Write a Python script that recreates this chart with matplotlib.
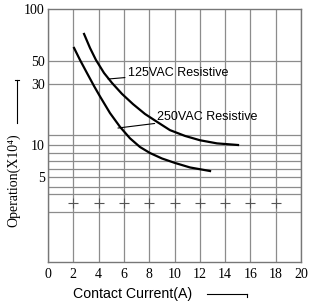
import numpy as np
import matplotlib
matplotlib.use("Agg")
import matplotlib.pyplot as plt
from matplotlib.lines import Line2D

# ---- data ----
x_125 = [2.85, 3.32, 3.79, 4.43, 5.06, 5.85, 6.72, 7.67, 8.62, 9.64, 10.83, 12.02, 13.36, 15.02]
y_125 = [71.7, 59.5, 50.7, 38.3, 30.7, 25.1, 20.9, 17.5, 15.2, 13.1, 11.8, 10.9, 10.3, 10.0]

x_250 = [2.06, 2.53, 3.08, 3.64, 4.11, 4.90, 5.69, 6.48, 7.27, 8.06, 9.01, 10.04, 11.23, 12.81]
y_250 = [59.5, 50.7, 38.3, 28.9, 24.0, 17.8, 13.9, 11.3, 9.46, 8.0, 7.30, 6.74, 6.18, 5.73]

xticks = list(range(0, 21, 2))
yticks = [5, 10, 30, 50, 100]
ytick_labels = ["5", "10", "30", "50", "100"]
hgrid_vals = [50, 30, 12, 10, 8, 7, 6, 5, 4, 3, 1]
cross_val = 2
cross_x = [2, 4, 6, 8, 10, 12, 14, 16, 18]

# ---- non-uniform (datasheet) vertical scale ----
anchor_vals = np.array([0.01, 0.5, 1, 2, 3, 4, 5, 6, 7, 8, 10, 12, 30, 50, 100, 1000])
anchor_pos = np.array([-100, 0, 50, 59, 68, 75, 85, 93, 101, 109, 117, 127, 178, 201, 253, 400], float)
anchor_logs = np.log10(anchor_vals)

def fwd(v):
    v = np.asarray(v, float)
    return np.interp(np.log10(np.clip(v, 1e-2, None)), anchor_logs, anchor_pos)

def inv(p):
    p = np.asarray(p, float)
    return 10 ** np.interp(p, anchor_pos, anchor_logs)

fig = plt.figure(figsize=(3.09, 3.04), dpi=100)
ax = fig.add_axes([48/309, 1-262/304, 253/309, 253/304])
ax.set_yscale('function', functions=(fwd, inv))
ax.set_xlim(0, 20)
ax.set_ylim(0.5, 100)

grid_c = '#8c8c8c'
for v in hgrid_vals:
    ax.axhline(v, color=grid_c, lw=0.9, zorder=1)
ax.set_xticks(xticks)
ax.xaxis.grid(True, color=grid_c, lw=0.9, zorder=1)
ax.plot(cross_x, [cross_val]*len(cross_x), '+', ms=7, mew=0.8, color='#555555', zorder=2)

ax.set_yticks(yticks)
ax.set_yticklabels(ytick_labels)
ax.yaxis.set_minor_locator(matplotlib.ticker.NullLocator())
ax.tick_params(length=0)
ax.tick_params(axis='y', pad=2.5)
ax.tick_params(axis='x', pad=4)
for lab in ax.get_xticklabels() + ax.get_yticklabels():
    lab.set_family(['Liberation Serif', 'DejaVu Serif'])
    lab.set_fontsize(10)
for s in ax.spines.values():
    s.set_color('#777777')
    s.set_linewidth(1.0)

ax.plot(x_125, y_125, color='black', lw=1.6, zorder=3, solid_joinstyle='round')
ax.plot(x_250, y_250, color='black', lw=1.6, zorder=3, solid_joinstyle='round')

ax.annotate('125VAC Resistive', xy=(4.75, 33.5), xytext=(6.3, 38.3),
            ha='left', va='center', fontsize=9, family='Liberation Sans',
            arrowprops=dict(arrowstyle='-', lw=0.8, color='black', shrinkA=0, shrinkB=0))
ax.annotate('250VAC Resistive', xy=(5.53, 13.6), xytext=(8.65, 16.6),
            ha='left', va='center', fontsize=9, family='Liberation Sans',
            arrowprops=dict(arrowstyle='-', lw=0.8, color='black', shrinkA=0, shrinkB=0))

fig.text(133/309, 1-294/304, 'Contact Current(A)', ha='center', va='center',
         fontsize=10.2, family='Liberation Sans')
fig.add_artist(Line2D([207/309, 247/309], [1-294/304, 1-294/304], color='black', lw=0.8))
fig.add_artist(Line2D([247/309, 247/309], [1-294/304, 1-297/304], color='black', lw=0.8))

fig.text(14/309, 1-180/304, 'Operation(X10\u2074)', rotation=90, ha='center', va='center',
         fontsize=10, family=['Liberation Serif', 'DejaVu Serif'])
fig.add_artist(Line2D([17/309, 17/309], [1-123/304, 1-80/304], color='black', lw=0.8))
fig.add_artist(Line2D([15/309, 19/309], [1-80/304, 1-80/304], color='black', lw=0.8))

fig.savefig('out.png', dpi=100)
